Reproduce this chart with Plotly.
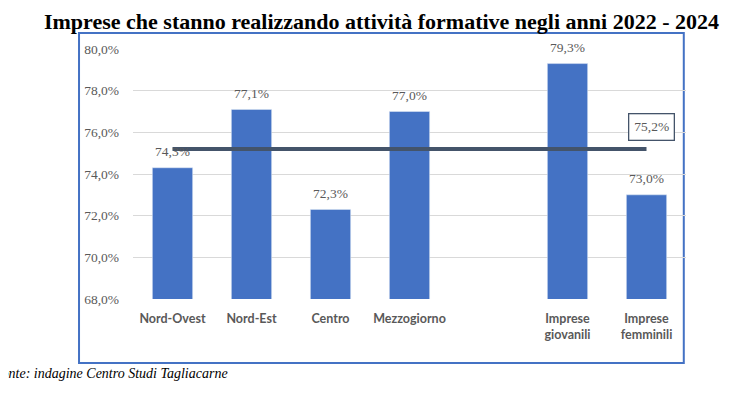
import plotly.graph_objects as go

title = "Imprese che stanno realizzando attività formative negli anni 2022 - 2024"
source = "Fonte: indagine Centro Studi Tagliacarne"

categories = ["Nord-Ovest", "Nord-Est", "Centro", "Mezzogiorno",
              "Imprese<br>giovanili", "Imprese<br>femminili"]
values = [74.3, 77.1, 72.3, 77.0, 79.3, 73.0]
labels = ["74,3%", "77,1%", "72,3%", "77,0%", "79,3%", "73,0%"]
spacer = " "
category_order = categories[:4] + [spacer] + categories[4:]
average = 75.2
average_label = "75,2%"
y_ticks = [68, 70, 72, 74, 76, 78, 80]
y_ticktext = ["68,0%", "70,0%", "72,0%", "74,0%", "76,0%", "78,0%", "80,0%"]

BLUE = "#4472C4"
SLATE = "#44546A"
GRAY = "#595959"
SERIF = "Liberation Serif, Times New Roman, serif"

fig = go.Figure()
fig.add_trace(go.Bar(x=categories, y=values, marker_color=BLUE, width=0.51,
                     hoverinfo="skip"))
fig.add_trace(go.Scatter(x=[categories[0], categories[-1]], y=[average, average],
                         mode="lines", line=dict(color=SLATE, width=4),
                         hoverinfo="skip"))

for c, v, t in zip(categories, values, labels):
    fig.add_annotation(x=c, y=v, text=t, showarrow=False, yshift=16, yanchor="middle",
                       font=dict(family=SERIF, size=13.5, color=GRAY))

fig.add_annotation(x=categories[-1], y=average, text=average_label, showarrow=False,
                   xshift=5, yshift=22, bordercolor=SLATE, borderwidth=1.3, borderpad=5,
                   bgcolor="white", font=dict(family=SERIF, size=13.5, color=GRAY))

fig.add_annotation(xref="paper", yref="paper", x=-0.259, y=-0.296, xanchor="left",
                   yanchor="middle", text="<i>" + source + "</i>", showarrow=False,
                   font=dict(family=SERIF, size=14, color="black"))

fig.add_shape(type="rect", xref="paper", yref="paper", x0=-0.0976, x1=0.996,
              y0=-0.256, y1=1.064, line=dict(color=BLUE, width=2), layer="below")

fig.update_layout(
    width=736, height=396,
    margin=dict(l=125, r=57.5, t=41, b=105),
    paper_bgcolor="white", plot_bgcolor="white",
    showlegend=False,
    title=dict(text="<b>" + title + "</b>", x=373.5 / 736, xref="container",
               y=1 - 13 / 396, yref="container", xanchor="center", yanchor="middle",
               font=dict(family=SERIF, size=22, color="black")),
    xaxis=dict(type="category", categoryorder="array", categoryarray=category_order,
               range=[-0.5, 6.5], showgrid=False, showline=False, ticks="",
               tickfont=dict(family="Lato, Liberation Sans, sans-serif", size=12.5,
                             color=GRAY, weight="bold"),
               ticklabelstandoff=10),
    yaxis=dict(range=[68, 80], tickvals=y_ticks, ticktext=y_ticktext,
               showgrid=True, gridcolor="#D9D9D9", gridwidth=1, zeroline=False,
               showline=False, ticks="",
               tickfont=dict(family=SERIF, size=13.5, color=GRAY),
               ticklabelstandoff=13),
)

fig.write_html("out.html")
